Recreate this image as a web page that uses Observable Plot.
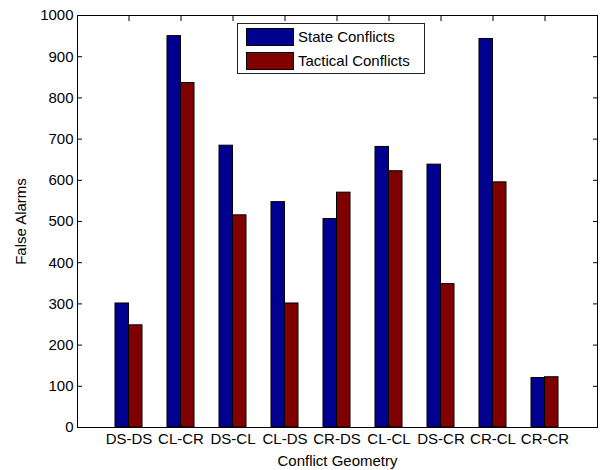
<!DOCTYPE html>
<html><head><meta charset="utf-8">
<script src="https://cdn.jsdelivr.net/npm/d3@7"></script>
<script src="https://cdn.jsdelivr.net/npm/@observablehq/plot@0.6"></script>
<style>
body{margin:0;background:#fff;}
#wrap{position:relative;width:600px;height:470px;font-family:"Liberation Sans",Arial,sans-serif;}
#legend{position:absolute;left:237px;top:23px;width:178px;border:1px solid #222;background:#fff;padding:4px 0 3px 8px;}
.item{display:flex;align-items:center;height:18px;margin-bottom:6px;font-size:15px;line-height:18px;color:#000;}
.item:last-child{margin-bottom:0}
.sw{width:46px;height:16px;border:1px solid #000;margin-right:4px;flex:none}
</style></head><body><div id="wrap"></div>
<script>
const categories = ["DS-DS","CL-CR","DS-CL","CL-DS","CR-DS","CL-CL","DS-CR","CR-CL","CR-CR"];
const seriesNames = ["State Conflicts","Tactical Conflicts"];
const stateValues = [301, 950, 684, 547, 506, 681, 638, 943, 120];
const tacticalValues = [248, 836, 515, 301, 570, 622, 348, 595, 122];
const yTicks = [0,100,200,300,400,500,600,700,800,900,1000];
const seriesColors = ["#000090","#800000"];

const rows = categories.flatMap((c, i) => [
  {category: c, series: seriesNames[0], value: stateValues[i]},
  {category: c, series: seriesNames[1], value: tacticalValues[i]}
]);

const font = "'Liberation Sans', Arial, sans-serif";
const chart = Plot.plot({
  width: 600, height: 470,
  marginLeft: 77, marginRight: 3, marginTop: 15, marginBottom: 43,
  style: {fontFamily: font, fontSize: "15px", background: "white", color: "black"},
  x: {type: "band", domain: categories, paddingInner: 0.48, paddingOuter: 0.74},
  y: {domain: [0, 1000]},
  color: {domain: seriesNames, range: seriesColors},
  marks: [
    Plot.barY(rows.filter(d => d.series === seriesNames[0]), {x: "category", y: "value", fill: "series", stroke: "black", strokeWidth: 1, insetRight: 13.5}),
    Plot.barY(rows.filter(d => d.series === seriesNames[1]), {x: "category", y: "value", fill: "series", stroke: "black", strokeWidth: 1, insetLeft: 13.5}),
    Plot.axisY({ticks: yTicks, tickFormat: "d", tickSize: 0, tickPadding: 4, label: "False Alarms", labelAnchor: "center", labelOffset: 62, labelArrow: "none"}),
    Plot.axisY({ticks: yTicks, tickSize: -5, fill: "none", label: null}),
    Plot.axisY({anchor: "right", ticks: yTicks, tickSize: -5, fill: "none", label: null}),
    Plot.axisX({anchor: "top", tickSize: -5, fill: "none", label: null}),
    Plot.axisX({tickSize: 0, tickPadding: 6, label: "Conflict Geometry", labelAnchor: "center", labelOffset: 38, labelArrow: "none"}),
    Plot.frame({stroke: "black"})
  ]
});

const wrap = document.getElementById("wrap");
wrap.appendChild(chart);
const colorScale = chart.scale("color");
const legend = d3.select(wrap).append("div").attr("id", "legend");
seriesNames.forEach(name => {
  const item = legend.append("div").attr("class", "item");
  item.append("div").attr("class", "sw").style("background", colorScale.apply(name));
  item.append("span").text(name);
});
</script></body></html>
